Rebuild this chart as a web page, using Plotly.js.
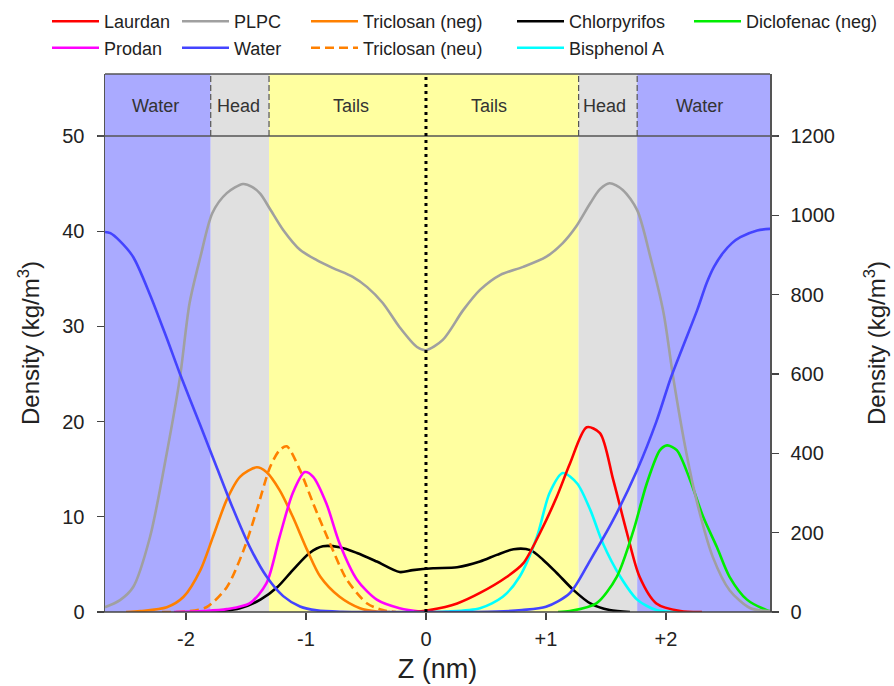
<!DOCTYPE html>
<html>
<head>
<meta charset="utf-8">
<script src="https://cdn.plot.ly/plotly-3.0.1.min.js"></script>
<style>html,body{margin:0;padding:0;background:#fff;}#chart{width:894px;height:686px;}</style>
</head>
<body>
<div id="chart"></div>
<script>
// ---------- DATA ----------
// Z positions (nm) and densities; PLPC & Water on right axis (kg/m^3), solutes on left axis (kg/m^3)
const plpcZ = [-2.675,-2.55,-2.44,-2.30,-2.16,-2.05,-1.97,-1.88,-1.78,-1.66,-1.525,-1.45,-1.38,-1.30,-1.19,-1.05,-0.91,-0.775,-0.61,-0.49,-0.36,-0.22,-0.075,0.0,0.14,0.31,0.45,0.62,0.81,1.0,1.14,1.25,1.37,1.45,1.53,1.64,1.76,1.87,1.98,2.06,2.17,2.26,2.39,2.53,2.70,2.87];
const plpcD = [12,30,63,189,401,592,779,895,1006,1056,1079,1072,1054,1016,963,913,887,867,845,819,779,718,668,660,686,761,812,850,870,895,930,971,1031,1066,1081,1064,1013,895,754,592,401,275,139,55,10,2];

const waterZ = [-2.675,-2.63,-2.55,-2.44,-2.30,-2.16,-2.05,-1.88,-1.74,-1.61,-1.47,-1.33,-1.19,-1.05,-0.91,-0.70,-0.40,0.0,0.40,0.59,0.80,1.0,1.2,1.37,1.56,1.76,1.92,2.04,2.14,2.26,2.34,2.40,2.475,2.55,2.62,2.76,2.87];
const waterD = [958,955,935,895,800,690,600,470,362,262,165,90,40,14,4,0.5,0,0,0,1,5,13,48,131,232,358,480,590,668,761,830,870,905,930,945,962,966];

const triNegZ = [-2.5,-2.38,-2.16,-2.02,-1.88,-1.775,-1.66,-1.55,-1.41,-1.33,-1.22,-1.11,-0.99,-0.88,-0.72,-0.55,-0.41,-0.3];
const triNegD = [0,0.1,0.5,1.6,4.4,7.9,11.8,14.2,15.2,14.7,12.8,10.0,6.5,3.7,1.6,0.4,0.05,0];

const triNeuZ = [-2.2,-2.0,-1.83,-1.66,-1.52,-1.41,-1.30,-1.22,-1.16,-1.05,-0.94,-0.80,-0.66,-0.49,-0.36,-0.25];
const triNeuD = [0,0.05,0.5,2.6,6.5,10.7,15.2,17.0,17.4,14.9,11.4,7.2,3.4,0.9,0.2,0];

const prodanZ = [-2.1,-1.85,-1.66,-1.47,-1.33,-1.22,-1.11,-1.01,-0.94,-0.83,-0.72,-0.575,-0.41,-0.22,-0.05,0.05];
const prodanD = [0,0.1,0.3,0.9,3.0,7.9,12.5,14.7,14.2,11.4,7.2,3.4,1.3,0.4,0.05,0];

const chlorZ = [-1.9,-1.74,-1.55,-1.38,-1.24,-1.11,-0.97,-0.86,-0.72,-0.575,-0.41,-0.22,-0.11,0.06,0.26,0.45,0.59,0.73,0.87,0.975,1.09,1.23,1.37,1.53,1.70];
const chlorD = [0,0.05,0.4,1.3,2.6,4.4,6.2,6.9,6.8,6.2,5.3,4.2,4.4,4.6,4.7,5.3,6.0,6.6,6.5,5.5,4.1,2.3,0.9,0.2,0];

const laurdanZ = [-0.1,0.03,0.26,0.45,0.675,0.81,0.95,1.09,1.2,1.34,1.45,1.56,1.675,1.78,1.92,2.12,2.3];
const laurdanD = [0,0.2,0.9,2.0,3.7,5.1,8.3,12.1,15.6,19.4,18.8,13.9,8.3,3.7,0.9,0.1,0];

const bpaZ = [0.0,0.17,0.45,0.64,0.78,0.925,1.03,1.14,1.26,1.37,1.475,1.62,1.76,1.92,2.1];
const bpaD = [0,0.05,0.4,1.6,3.7,7.9,12.5,14.6,13.5,10.7,7.2,3.7,1.3,0.2,0];

const dicloZ = [1.1,1.2,1.42,1.59,1.73,1.84,1.95,2.01,2.09,2.2,2.31,2.425,2.53,2.675,2.84,2.87];
const dicloD = [0,0.1,0.9,3.7,8.6,13.5,17.0,17.5,17.0,13.9,10.0,6.8,3.7,1.3,0.2,0.1];

// Region boundaries (nm) and labels
const regionEdges = [-2.675,-1.794,-1.308,1.272,1.76,2.867];
const regionNames = ["Water","Head","Tails","Head","Water"];
const bandLabels = ["Water","Head","Tails","Tails","Head","Water"];
const bandLabelZ = [-2.258,-1.56,-0.625,0.525,1.49,2.283];

const xTickVals = [-2,-1,0,1,2];
const xTickText = ["-2","-1","0","+1","+2"];
const yLeftTicks = [0,10,20,30,40,50];
const yRightTicks = [0,200,400,600,800,1000,1200];

// ---------- LAYOUT HELPERS ----------
const L = 105, R = 770, T = 74, B = 612;
const W = R - L, H = B - T;
const yMax = 50 * H / (B - 136);
const y2Max = yMax * 24;
const px2x = px => (px - L) / W;
const py2y = py => (B - py) / H;

const FONT = "Liberation Sans, Arial, sans-serif";
const regionColor = {Water:"#aaaaff", Head:"#e0e0e0", Tails:"#ffffa0"};

const shapes = [];
for (let i = 0; i < regionNames.length; i++) {
  shapes.push({type:"rect", layer:"below", xref:"x", yref:"paper",
    x0: regionEdges[i], x1: regionEdges[i+1], y0: 0, y1: 1,
    fillcolor: regionColor[regionNames[i]], line:{width:0}});
}
// dashed separators in the header band
[1,2,3,4].forEach(i => shapes.push({type:"line", xref:"x", yref:"paper",
  x0: regionEdges[i], x1: regionEdges[i], y0: py2y(136), y1: 1,
  line:{color:"#555", width:1.2, dash:"6px,3px"}}));
// header separator at y=50, bottom axis line, top frame line
shapes.push({type:"line", xref:"paper", yref:"paper", x0: px2x(98), x1: px2x(777), y0: py2y(136), y1: py2y(136), line:{color:"#555", width:1.5}});
shapes.push({type:"line", xref:"paper", yref:"paper", x0: px2x(98), x1: px2x(777), y0: 0, y1: 0, line:{color:"#444", width:1.5}});
shapes.push({type:"line", xref:"paper", yref:"paper", x0: 0, x1: 1, y0: 1, y1: 1, line:{color:"#555", width:1.5}});
// bilayer centre
shapes.push({type:"line", xref:"x", yref:"paper", x0: 0, x1: 0, y0: 0, y1: 1, line:{color:"#000", width:3, dash:"3px,4px"}});

const annotations = bandLabels.map((t, i) => ({
  text: t, x: bandLabelZ[i], xref:"x", y: py2y(106), yref:"paper",
  showarrow:false, xanchor:"center", yanchor:"middle",
  font:{family:FONT, size:18, color:"#333"}
}));

// ---------- TRACES ----------
function tr(name, x, y, color, opts) {
  return Object.assign({type:"scatter", mode:"lines", name:name, x:x, y:y,
    line:{color:color, width:2.6, shape:"spline", smoothing:0.8}}, opts || {});
}
const legendPos = {
  legend:  [52, 21.5], legend2: [182, 21.5], legend3: [311, 21.5], legend4: [517, 21.5], legend5: [694, 21.5],
  legend6: [52, 48],   legend7: [182, 48],   legend8: [311, 48],   legend9: [517, 48]
};
const traces = [
  tr("PLPC", plpcZ, plpcD, "#a0a0a0", {yaxis:"y2", legend:"legend2"}),
  tr("Water", waterZ, waterD, "#4444ff", {yaxis:"y2", legend:"legend7"}),
  tr("Chlorpyrifos", chlorZ, chlorD, "#000000", {legend:"legend4"}),
  tr("Triclosan (neg)", triNegZ, triNegD, "#ff8000", {legend:"legend3"}),
  tr("Triclosan (neu)", triNeuZ, triNeuD, "#ff8000", {legend:"legend8"}),
  tr("Prodan", prodanZ, prodanD, "#ff00ff", {legend:"legend6"}),
  tr("Bisphenol A", bpaZ, bpaD, "#00ffff", {legend:"legend9"}),
  tr("Laurdan", laurdanZ, laurdanD, "#ff0000", {legend:"legend"}),
  tr("Diclofenac (neg)", dicloZ, dicloD, "#00ee00", {legend:"legend5"})
];
traces[4].line.dash = "9px,5px";

const layout = {
  width: 894, height: 686,
  margin: {l: L, r: 894 - R, t: T, b: 686 - B, pad: 0, autoexpand: false},
  paper_bgcolor: "#fff", plot_bgcolor: "#fff",
  font: {family: FONT, color: "#222"},
  showlegend: true,
  xaxis: {range: [regionEdges[0], regionEdges[5]], tickvals: xTickVals, ticktext: xTickText,
    ticks: "outside", ticklen: 7, tickwidth: 1.3, tickcolor: "#444", showline: false,
    showgrid: false, zeroline: false, ticklabelstandoff: 2,
    tickfont: {family: FONT, size: 20, color: "#222"},
    title: {text: "Z (nm)", font: {family: FONT, size: 27, color: "#222"}, standoff: 10}},
  yaxis: {range: [0, yMax], tickvals: yLeftTicks, ticks: "outside", ticklen: 7, tickwidth: 1.3,
    tickcolor: "#444", showline: true, linecolor: "#555", linewidth: 1.5, showgrid: false,
    zeroline: false, ticklabelstandoff: 8,
    tickfont: {family: FONT, size: 20, color: "#222"},
    title: {text: "Density (kg/m<sup>3</sup>)", font: {family: FONT, size: 24, color: "#222"}, standoff: 16}},
  yaxis2: {range: [0, y2Max], tickvals: yRightTicks, overlaying: "y", side: "right",
    ticks: "outside", ticklen: 7, tickwidth: 1.3, tickcolor: "#444", showline: true,
    linecolor: "#555", linewidth: 1.5, showgrid: false, zeroline: false, ticklabelstandoff: 8,
    tickfont: {family: FONT, size: 20, color: "#222"},
    title: {text: "Density (kg/m<sup>3</sup>)", font: {family: FONT, size: 24, color: "#222"}, standoff: 34}},
  shapes: shapes,
  annotations: annotations
};
Object.keys(legendPos).forEach(k => {
  layout[k] = {x: px2x(legendPos[k][0] - 5), y: py2y(legendPos[k][1]), xanchor: "left", yanchor: "middle",
    bgcolor: "rgba(0,0,0,0)", borderwidth: 0, itemwidth: 47,
    font: {family: FONT, size: 18, color: "#222"}};
});

Plotly.newPlot("chart", traces, layout, {displayModeBar: false, staticPlot: true});
</script>
</body>
</html>
